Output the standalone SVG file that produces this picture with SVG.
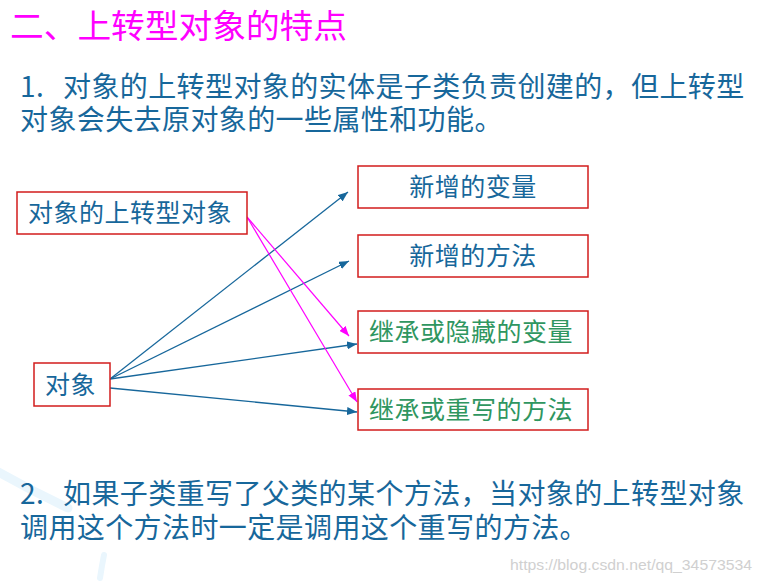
<svg xmlns="http://www.w3.org/2000/svg" width="760" height="584" viewBox="0 0 760 584">
<defs>
<style>
.t{font-family:"Noto Sans CJK SC","Liberation Sans",sans-serif;}
.body{font-size:28px;fill:#17679b;letter-spacing:0.4px;}
.lbl{font-size:25px;letter-spacing:0.5px;}
.blue{fill:#17679b;}
.green{fill:#2f9660;}
.box{fill:#ffffff;stroke:#d21c1c;stroke-width:1.5;}
.cb{stroke:#17679b;stroke-width:1.3;fill:none;}
.cm{stroke:#ff00ff;stroke-width:1.2;fill:none;}
</style>
<marker id="ab" viewBox="0 0 10 8" refX="10" refY="4" markerWidth="10" markerHeight="8" markerUnits="userSpaceOnUse" orient="auto"><path d="M0,0L10,4L0,8z" fill="#17679b"/></marker>
<marker id="am" viewBox="0 0 10 8" refX="10" refY="4" markerWidth="10" markerHeight="8" markerUnits="userSpaceOnUse" orient="auto"><path d="M0,0L10,4L0,8z" fill="#ff00ff"/></marker>
</defs>
<rect width="760" height="584" fill="#ffffff"/>
<g id="background" fill="none" stroke="#eaf6fd" stroke-linecap="round">
<path d="M-5,470 Q30,490 68,508" stroke-width="9"/>
<path d="M104,555 Q102,565 100,578" stroke-width="6"/>
</g>
<g id="texts">
<text class="t" x="10" y="38" font-size="33" fill="#ff00ff" textLength="337" lengthAdjust="spacingAndGlyphs">二、上转型对象的特点</text>
<text class="t body"><tspan x="20" y="97">1.</tspan><tspan x="63" y="97">对象的上转型对象的实体是子类负责创建的，但上转型</tspan><tspan x="20" y="130">对象会失去原对象的一些属性和功能。</tspan></text>
<text class="t body"><tspan x="20" y="504">2.</tspan><tspan x="63" y="504">如果子类重写了父类的某个方法，当对象的上转型对象</tspan><tspan x="20" y="538">调用这个方法时一定是调用这个重写的方法。</tspan></text>
<text x="510" y="570" font-family="Liberation Sans, sans-serif" font-size="15" fill="#d0d0d0" textLength="242" lengthAdjust="spacingAndGlyphs">https://blog.csdn.net/qq_34573534</text>
</g>
<g id="connectors">
<line class="cb" x1="110" y1="379" x2="348" y2="192" marker-end="url(#ab)"/>
<line class="cb" x1="110" y1="379" x2="349" y2="261" marker-end="url(#ab)"/>
<line class="cb" x1="110" y1="379" x2="357" y2="344" marker-end="url(#ab)"/>
<line class="cb" x1="110" y1="388" x2="357" y2="412" marker-end="url(#ab)"/>
<line class="cm" x1="247" y1="217" x2="349" y2="336" marker-end="url(#am)"/>
<line class="cm" x1="247" y1="217" x2="357" y2="402" marker-end="url(#am)"/>
</g>
<g id="node-upcast">
<rect class="box" x="17" y="192" width="230" height="42"/>
<text class="t lbl blue" x="28" y="222">对象的上转型对象</text>
</g>
<g id="node-object">
<rect class="box" x="34" y="363" width="76" height="43"/>
<text class="t lbl blue" x="45" y="394">对象</text>
</g>
<g id="node-new-var">
<rect class="box" x="358" y="166" width="230" height="42"/>
<text class="t lbl blue" x="473" y="196" text-anchor="middle">新增的变量</text>
</g>
<g id="node-new-method">
<rect class="box" x="358" y="235" width="230" height="42"/>
<text class="t lbl blue" x="473" y="265" text-anchor="middle">新增的方法</text>
</g>
<g id="node-inherit-var">
<rect class="box" x="358" y="311" width="230" height="42"/>
<text class="t lbl green" x="471" y="341" text-anchor="middle">继承或隐藏的变量</text>
</g>
<g id="node-inherit-method">
<rect class="box" x="358" y="389" width="230" height="41"/>
<text class="t lbl green" x="471" y="419" text-anchor="middle">继承或重写的方法</text>
</g>
</svg>
